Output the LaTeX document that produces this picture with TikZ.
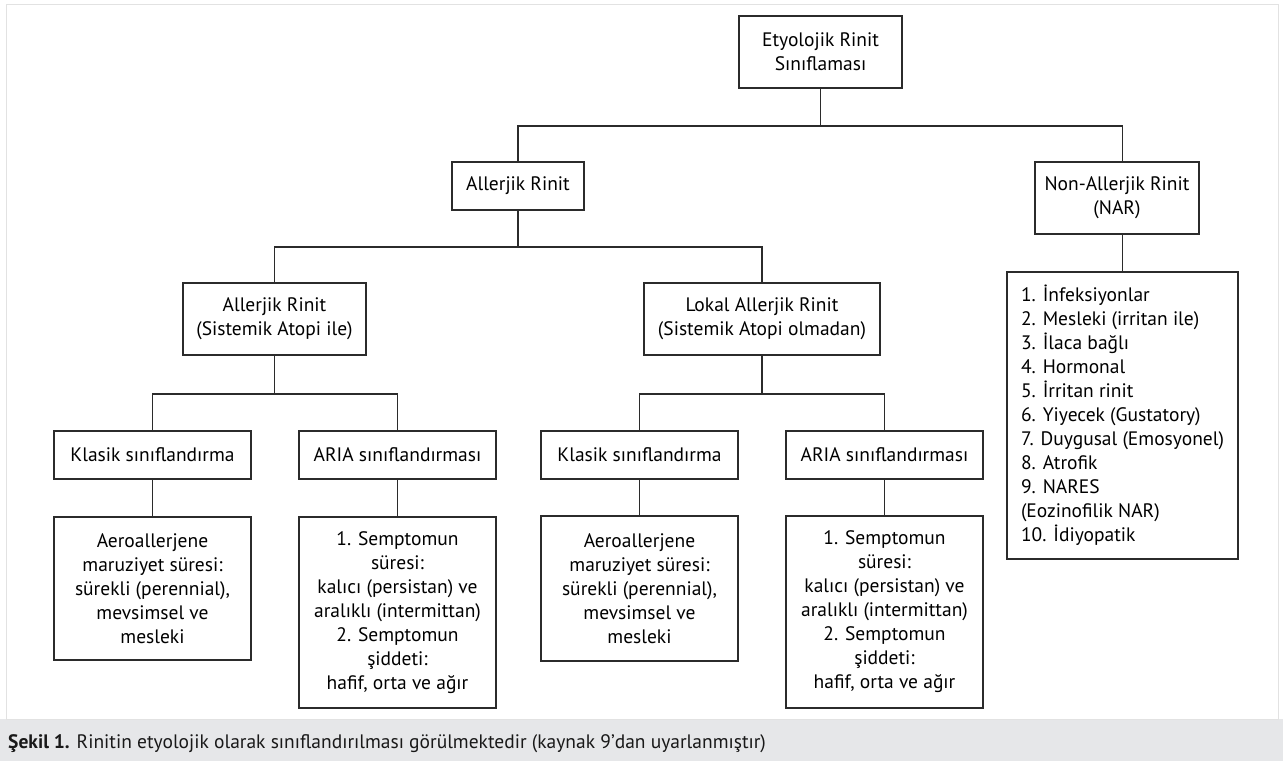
\documentclass[tikz,border=0pt]{standalone}
\usepackage{fontspec}
\setmainfont{PT Sans}
\definecolor{capgray}{HTML}{E6E7E9}
\definecolor{framegray}{HTML}{E2E2E2}
\definecolor{ink}{HTML}{2B2B2B}
\begin{document}
\begin{tikzpicture}[x=1pt,y=-1pt,
  box/.style={draw=ink, line width=1.3pt, fill=white, align=center, inner sep=0pt,
    font=\fontsize{19.5}{24}\selectfont, text=black},
  conn/.style={draw=ink, line width=1.3pt}]
\useasboundingbox (0,0) rectangle (1283,761);
\fill[white] (0,0) rectangle (1283,761);
\fill[capgray] (0,719) rectangle (1283,761);
\draw[framegray, line width=1pt] (6,4) rectangle (1278,719);

% nodes
\node[box, minimum width=163pt, minimum height=72pt] (root) at (820.5,52) {Etyolojik Rinit\\Sınıflaması};
\node[box, minimum width=132pt, minimum height=48pt] (ar) at (518,186) {Allerjik Rinit};
\node[box, minimum width=164pt, minimum height=72pt] (nar) at (1117,198) {Non-Allerjik Rinit\\(NAR)};
\node[box, minimum width=183pt, minimum height=72pt] (ar1) at (274.5,319) {Allerjik Rinit\\(Sistemik Atopi ile)};
\node[box, minimum width=236pt, minimum height=72pt] (lar) at (762,319) {Lokal Allerjik Rinit\\(Sistemik Atopi olmadan)};
\node[box, minimum width=197pt, minimum height=48pt] (k1) at (152.5,455) {Klasik sınıflandırma};
\node[box, minimum width=197pt, minimum height=48pt] (a1) at (397.5,455) {ARIA sınıflandırması};
\node[box, minimum width=197pt, minimum height=48pt] (k2) at (639.5,455) {Klasik sınıflandırma};
\node[box, minimum width=197pt, minimum height=48pt] (a2) at (884.5,455) {ARIA sınıflandırması};
\node[box, minimum width=197pt, minimum height=143pt] (kd1) at (152.5,588.5) {Aeroallerjene\\maruziyet süresi:\\sürekli (perennial),\\mevsimsel ve\\mesleki};
\node[box, minimum width=197pt, minimum height=191pt] (ad1) at (397.5,612.5) {1. Semptomun\\süresi:\\kalıcı (persistan) ve\\aralıklı (intermittan)\\2. Semptomun\\şiddeti:\\hafif, orta ve ağır};
\node[box, minimum width=197pt, minimum height=145pt] (kd2) at (639.5,588.5) {Aeroallerjene\\maruziyet süresi:\\sürekli (perennial),\\mevsimsel ve\\mesleki};
\node[box, minimum width=197pt, minimum height=192pt] (ad2) at (884.5,612) {1. Semptomun\\süresi:\\kalıcı (persistan) ve\\aralıklı (intermittan)\\2. Semptomun\\şiddeti:\\hafif, orta ve ağır};
\node[box, align=left, minimum width=231pt, minimum height=287pt] (list) at (1122.5,415.5) {1. İnfeksiyonlar\\2. Mesleki (irritan ile)\\3. İlaca bağlı\\4. Hormonal\\5. İrritan rinit\\6. Yiyecek (Gustatory)\\7. Duygusal (Emosyonel)\\8. Atrofik\\9. NARES\\(Eozinofilik NAR)\\10. İdiyopatik};

% bus coordinates
\coordinate (b1) at (0,126);
\coordinate (b2) at (0,247);
\coordinate (b3) at (0,394);

% connectors
\draw[conn] (root.south) -- (root.south |- b1);
\draw[conn] (ar.north) |- (b1 -| list.north) -- (nar.north -| list.north);
\draw[conn] (nar.south -| list.north) -- (list.north);

\draw[conn] (ar.south) -- (ar.south |- b2);
\draw[conn] (ar1.north) |- (b2 -| lar.north) -- (lar.north);

\draw[conn] (ar1.south) -- (ar1.south |- b3);
\draw[conn] (k1.north) |- (b3 -| a1.north) -- (a1.north);
\draw[conn] (lar.south) -- (lar.south |- b3);
\draw[conn] (k2.north) |- (b3 -| a2.north) -- (a2.north);

\draw[conn] (k1.south) -- (kd1.north);
\draw[conn] (a1.south) -- (ad1.north);
\draw[conn] (k2.south) -- (kd2.north);
\draw[conn] (a2.south) -- (ad2.north);

% caption
\node[anchor=base west, inner sep=0pt, font=\fontsize{19.5}{22}\selectfont, text=black!90] (cap) at (8,748)
  {\textbf{Şekil 1.} Rinitin etyolojik olarak sınıflandırılması görülmektedir (kaynak 9’dan uyarlanmıştır)};
\end{tikzpicture}
\end{document}
